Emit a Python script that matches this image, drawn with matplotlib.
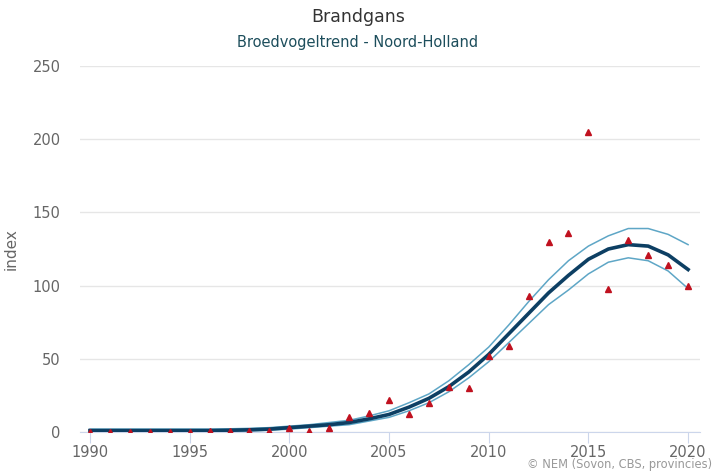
import matplotlib.pyplot as plt

# %%
years = list(range(1990, 2021))
index_obs = [0, 0, 0, 0, 0, 0, 1, 1, 1, 1, 3, 1, 3, 10, 13, 22, 12, 20, 31, 30,
             52, 59, 93, 130, 136, 205, 98, 131, 121, 114, 100]
trend = [1, 1, 1, 1, 1, 1, 1, 1.2, 1.5, 2, 3, 4, 5, 6.5, 9, 12, 17, 23, 31, 41,
         53, 67, 81, 95, 107, 118, 125, 128, 127, 121, 111]
upper = [2, 2, 2, 2, 2, 2, 2, 2.2, 2.5, 3, 4, 5, 6.5, 8, 11, 14.5, 20, 26, 35, 46,
         58, 73, 89, 104, 117, 127, 134, 139, 139, 135, 128]
lower = [0.3, 0.3, 0.3, 0.3, 0.3, 0.3, 0.4, 0.5, 0.8, 1.2, 2, 3, 4, 5, 7.5, 10, 14.5, 20, 27.5, 37,
         48, 61, 74, 87, 97, 108, 116, 119, 117, 110, 98]
xticks = [1990, 1995, 2000, 2005, 2010, 2015, 2020]
yticks = [0, 50, 100, 150, 200, 250]

# %%
fig = plt.figure(figsize=(7.16, 4.72), dpi=100)
ax = fig.add_axes([0.1117, 0.0847, 0.866, 0.7754])

ax.plot(years, upper, color="#5ea6c6", lw=1.1, zorder=3)
ax.plot(years, lower, color="#5ea6c6", lw=1.1, zorder=3)
ax.plot(years, trend, color="#0d3f63", lw=2.6, zorder=4)
ax.plot(years, index_obs, linestyle="none", marker="^", ms=4.2, color="#c0111f", zorder=5)

ax.set_xlim(1989.5, 2020.6)
ax.set_ylim(0, 250)
ax.set_xticks(xticks)
ax.set_yticks(yticks)
ax.grid(axis="y", color="#e6e6e6", lw=1)
ax.set_axisbelow(True)
for s in ["top", "right", "left"]:
    ax.spines[s].set_visible(False)
ax.spines["bottom"].set_color("#ccd6eb")
ax.tick_params(axis="x", colors="#ccd6eb", labelcolor="#666666", length=8, labelsize=10.5, pad=1)
ax.tick_params(axis="y", length=0, labelcolor="#666666", labelsize=10.5, pad=14)
ax.set_ylabel("index", color="#666666", fontsize=11, labelpad=10)

fig.text(0.5, 0.965, "Brandgans", ha="center", va="center", fontsize=12.5, color="#333333")
fig.text(0.5, 0.91, "Broedvogeltrend - Noord-Holland", ha="center", va="center", fontsize=10.5, color="#1d4e5c")
fig.text(0.995, 0.002, "\u00a9 NEM (Sovon, CBS, provincies)", ha="right", va="bottom", fontsize=8.3, color="#999999")

plt.savefig("out.png", dpi=100)
